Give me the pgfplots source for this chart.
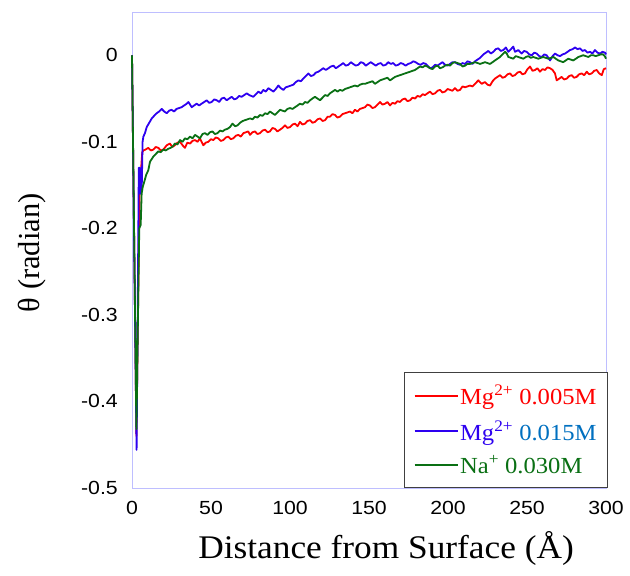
\documentclass[border=0pt]{standalone}
\usepackage{pgfplots}
\pgfplotsset{compat=1.18}
\usepackage{fontspec}
\setmainfont{Liberation Serif}
\newfontfamily\serifw[FakeStretch=1.07]{Liberation Serif}
\newfontfamily\arial[FakeStretch=1.12]{Liberation Sans}
\definecolor{cred}{RGB}{255,0,0}
\definecolor{cblue}{RGB}{45,0,240}
\definecolor{cgreen}{RGB}{10,112,20}
\definecolor{ctext}{RGB}{0,112,192}
\definecolor{lav}{RGB}{190,190,255}
\begin{document}
\begin{tikzpicture}[x=1bp,y=1bp]
\useasboundingbox (0,0) rectangle (630,576);
\begin{axis}[
  at={(132bp,88bp)}, anchor=south west,
  scale only axis, width=474bp, height=476bp,
  xmin=0, xmax=300, ymin=-0.5, ymax=0.05,
  xtick={0,50,100,150,200,250,300},
  xticklabels={0,50,100,150,200,250,300},
  ytick={-0.5,-0.4,-0.3,-0.2,-0.1,0},
  yticklabels={-0.5,-0.4,-0.3,-0.2,-0.1,0},
  major tick length=0pt,
  axis line style={draw=lav, line width=0.8bp},
  ticklabel style={font=\arial\fontsize{19bp}{22bp}\selectfont},
  yticklabel style={anchor=east, inner sep=0pt, xshift=-14bp},
  xticklabel style={anchor=north, inner sep=0pt, yshift=-13bp},
  xlabel={Distance from Surface (Å)},
  ylabel={θ (radian)},
  xlabel style={font=\serifw\fontsize{33bp}{36bp}\selectfont, at={(axis description cs:0.536,0)}, anchor=center, yshift=-60bp},
  ylabel style={font=\fontsize{30.5bp}{34bp}\selectfont, at={(axis description cs:-0.211,0.494)}, anchor=center},
  legend style={at={(1.003,0)}, anchor=south east, draw=black!75, line width=0.8bp, fill=white,
    font=\serifw\fontsize{23bp}{26bp}\selectfont, inner xsep=9bp, inner ysep=10.5bp, row sep=10bp,
    nodes={inner xsep=1.5bp}},
  legend cell align=left,
  legend image code/.code={\draw[#1, line width=2bp] (0bp,0bp) -- (43bp,0bp);},
  clip=false,
]
\addplot[cred, line width=1.8bp, line join=round] coordinates {
(0,0) (2.8,-0.44) (4.8,-0.156) (6.5,-0.112) (7.2,-0.110) (8.5,-0.109) (10.3,-0.107) (12,-0.110) (13.5,-0.109) (15,-0.106) (16.7,-0.107) (18.2,-0.110) (19.8,-0.109) (22,-0.104) (24,-0.102) (25.5,-0.106) (27.1,-0.104) (28.8,-0.101) (30.4,-0.100) (32,-0.104) (33.5,-0.107) (35,-0.101) (36.7,-0.102) (38.3,-0.099) (39.9,-0.098) (41.5,-0.100) (43,-0.096) (45.1,-0.104) (46.7,-0.101) (48.3,-0.100) (50,-0.097) (51.5,-0.098) (53,-0.095) (54.6,-0.096) (56.2,-0.099) (57.8,-0.098) (59.4,-0.095) (60.9,-0.094) (62.5,-0.097) (64.1,-0.096) (65.7,-0.093) (67.3,-0.092) (68.9,-0.094) (70.5,-0.090) (72,-0.089) (73.6,-0.088) (74.7,-0.092) (76.2,-0.089) (77.8,-0.088) (79.4,-0.091) (81,-0.090) (82.6,-0.087) (84.2,-0.086) (85.8,-0.089) (87.3,-0.088) (88.9,-0.084) (90.5,-0.085) (92,-0.088) (93.7,-0.086) (95.2,-0.084) (96.8,-0.081) (98.4,-0.084) (100,-0.083) (101.6,-0.080) (103.2,-0.079) (104.8,-0.082) (106.3,-0.077) (107.9,-0.080) (109.5,-0.079) (111,-0.076) (112.7,-0.075) (114.2,-0.078) (115.8,-0.077) (117.4,-0.074) (119,-0.073) (120.6,-0.076) (122.2,-0.075) (123.8,-0.071) (125.3,-0.071) (126.9,-0.068) (128.5,-0.069) (130,-0.072) (131.6,-0.071) (133.2,-0.068) (134.8,-0.067) (136.4,-0.066) (138,-0.065) (139.5,-0.067) (141.1,-0.063) (142.7,-0.065) (144.3,-0.062) (145.9,-0.061) (147.5,-0.060) (149,-0.057) (150.6,-0.058) (152.2,-0.061) (153.8,-0.060) (155.4,-0.057) (157,-0.054) (158.5,-0.057) (160.1,-0.056) (161.7,-0.054) (163.3,-0.058) (164.9,-0.055) (166.5,-0.056) (168,-0.053) (169.6,-0.054) (171.2,-0.051) (172.8,-0.050) (174.4,-0.053) (176,-0.052) (177.5,-0.049) (179.1,-0.050) (180.7,-0.047) (182.3,-0.048) (183.9,-0.045) (185.4,-0.046) (187,-0.044) (188.6,-0.042) (190.2,-0.045) (191.8,-0.044) (193.4,-0.041) (194.9,-0.040) (196.5,-0.043) (198.1,-0.042) (199.7,-0.039) (201.3,-0.040) (202.8,-0.041) (204.4,-0.038) (206,-0.041) (207.6,-0.040) (209.2,-0.036) (210.8,-0.037) (212.3,-0.036) (213.9,-0.035) (215.5,-0.036) (217.1,-0.033) (219.2,-0.029) (221.3,-0.033) (223.4,-0.031) (225,-0.034) (226.6,-0.035) (228.2,-0.030) (229.7,-0.027) (231.3,-0.025) (232.9,-0.023) (234.5,-0.026) (236.1,-0.025) (237.7,-0.022) (239.2,-0.021) (240.8,-0.024) (242.4,-0.023) (244,-0.020) (245.6,-0.019) (247.1,-0.022) (248.7,-0.021) (250.3,-0.016) (251.9,-0.013) (253.5,-0.018) (255.1,-0.017) (256.6,-0.015) (258.2,-0.019) (259.8,-0.016) (261.4,-0.017) (263,-0.014) (264.6,-0.015) (266.2,-0.017) (267.7,-0.021) (268.8,-0.029) (270.4,-0.027) (271.9,-0.025) (273.5,-0.028) (275.1,-0.027) (276.7,-0.024) (278.3,-0.023) (279.8,-0.026) (281.4,-0.025) (283,-0.022) (284.6,-0.021) (286.2,-0.023) (287.8,-0.019) (289.3,-0.022) (290.9,-0.021) (292.5,-0.018) (294.1,-0.017) (295.7,-0.021) (297.3,-0.023) (298.6,-0.016) (300,-0.015)
};
\addlegendentry{\textcolor{cred}{Mg\textsuperscript{2+} 0.005M}}
\addplot[cblue, line width=1.8bp, line join=round] coordinates {
(0,0) (2.9,-0.456) (3.6,-0.30) (4.3,-0.13) (5.0,-0.13) (5.3,-0.16) (6.2,-0.15) (6.7,-0.10) (7.2,-0.094) (8.2,-0.090) (9.3,-0.083) (10.9,-0.078) (12.5,-0.073) (14,-0.070) (15.6,-0.067) (17.2,-0.065) (18.8,-0.062) (20.4,-0.065) (22,-0.067) (23.5,-0.064) (25,-0.063) (26.6,-0.065) (28.2,-0.062) (29.8,-0.061) (31.4,-0.060) (33,-0.058) (34.6,-0.056) (35.7,-0.054) (37.8,-0.060) (39.3,-0.058) (40.9,-0.056) (42.5,-0.058) (44,-0.056) (45.7,-0.054) (47.3,-0.052) (48.9,-0.055) (50.4,-0.054) (52,-0.051) (53.6,-0.052) (55.2,-0.054) (56.7,-0.050) (58.3,-0.049) (59.9,-0.052) (61.5,-0.050) (63.1,-0.048) (64.7,-0.051) (66.2,-0.050) (67.8,-0.047) (69.4,-0.048) (71,-0.046) (72.6,-0.044) (74.2,-0.046) (76.8,-0.048) (78.4,-0.045) (80,-0.042) (81.6,-0.044) (83.1,-0.040) (84.7,-0.042) (86.3,-0.038) (87.9,-0.040) (89.5,-0.042) (91,-0.039) (92.6,-0.035) (94.2,-0.038) (95.8,-0.040) (97.4,-0.037) (99,-0.036) (100.6,-0.035) (102.1,-0.034) (103.7,-0.031) (105.3,-0.029) (106.9,-0.030) (108.4,-0.027) (110,-0.024) (111.6,-0.021) (113.2,-0.024) (114.8,-0.023) (116.4,-0.020) (118,-0.019) (119.5,-0.017) (121.1,-0.015) (122.7,-0.017) (124.3,-0.015) (125.9,-0.013) (127.5,-0.012) (129,-0.015) (130.6,-0.013) (132.2,-0.011) (133.7,-0.009) (135.3,-0.012) (136.9,-0.011) (138.5,-0.008) (140,-0.010) (141.6,-0.012) (143.2,-0.011) (144.8,-0.008) (146.4,-0.009) (148,-0.012) (149.5,-0.010) (151.1,-0.008) (152.7,-0.010) (154.3,-0.012) (155.8,-0.010) (157.4,-0.009) (159,-0.012) (160.6,-0.011) (162.2,-0.008) (163.8,-0.010) (165.3,-0.009) (166.9,-0.012) (168.5,-0.011) (170.1,-0.009) (171.6,-0.010) (173.2,-0.012) (174.8,-0.010) (176.4,-0.009) (178,-0.007) (179.5,-0.008) (181.1,-0.010) (182.7,-0.011) (184.3,-0.009) (185.9,-0.010) (187.5,-0.013) (188.6,-0.015) (190.2,-0.014) (191.8,-0.011) (193.4,-0.012) (194.9,-0.010) (196.5,-0.008) (198.1,-0.011) (199.7,-0.012) (201.3,-0.010) (202.8,-0.008) (204.4,-0.008) (206,-0.010) (207.6,-0.011) (209.2,-0.009) (210.8,-0.010) (212.3,-0.007) (213.9,-0.008) (215.5,-0.010) (217.1,-0.007) (218.7,-0.005) (220.3,-0.003) (222.4,0.001) (224,0.003) (225.5,0.005) (227.1,0.002) (228.7,0.004) (230.2,0.007) (231.8,0.008) (233.4,0.005) (235,0.006) (236.6,0.009) (238.2,0.004) (239.8,0.007) (241.3,0.010) (242.4,0.004) (244.5,0.006) (246.6,0.002) (248.2,0.005) (249.8,0.004) (251.4,0.001) (253,0.000) (254.6,0.003) (256.1,0.002) (257.7,-0.001) (259.3,-0.002) (260.9,0.001) (262.4,0.000) (264.6,-0.006) (266.2,-0.001) (267.7,0.002) (269.3,0.000) (270.9,-0.001) (272.5,0.001) (274.1,0.002) (275.7,0.004) (277.2,0.006) (278.8,0.007) (280.4,0.009) (282,0.007) (283.5,0.008) (285.1,0.005) (286.7,0.006) (288.3,0.003) (289.9,0.004) (291.4,0.002) (293,0.006) (294.6,0.003) (296.2,0.002) (297.8,0.004) (299.4,0.003) (300,0.001)
};
\addlegendentry{\textcolor{cblue}{Mg\textsuperscript{2+}} \textcolor{ctext}{0.015M}}
\addplot[cgreen, line width=1.8bp, line join=round] coordinates {
(0,0) (2.8,-0.432) (3.8,-0.30) (4.6,-0.20) (5.5,-0.196) (6.1,-0.16) (6.8,-0.152) (7.8,-0.146) (9,-0.138) (10.3,-0.133) (11.4,-0.123) (12.5,-0.120) (13.5,-0.117) (15.1,-0.114) (16.7,-0.111) (18.2,-0.112) (19.8,-0.109) (21.4,-0.110) (23,-0.108) (24.5,-0.107) (26,-0.105) (27.1,-0.102) (28.8,-0.103) (30.4,-0.098) (32,-0.100) (33.5,-0.096) (35,-0.097) (36.7,-0.094) (38.3,-0.096) (39.9,-0.092) (41.5,-0.094) (43,-0.096) (44.6,-0.091) (46.2,-0.090) (47.8,-0.092) (49.3,-0.089) (50.9,-0.088) (52.5,-0.091) (54.1,-0.090) (55.7,-0.087) (57.3,-0.088) (58.8,-0.086) (60.4,-0.085) (62,-0.083) (63.6,-0.079) (65.2,-0.082) (66.8,-0.081) (68.4,-0.078) (70,-0.076) (71.5,-0.075) (73.1,-0.074) (74.7,-0.073) (76.3,-0.074) (77.8,-0.071) (79.4,-0.072) (81,-0.069) (82.6,-0.070) (84.2,-0.067) (85.8,-0.068) (87.3,-0.065) (88.9,-0.067) (90.5,-0.069) (92.1,-0.066) (93.7,-0.063) (95.2,-0.064) (96.8,-0.065) (98.4,-0.062) (100,-0.061) (101.6,-0.062) (103.2,-0.060) (104.8,-0.058) (106.3,-0.056) (107.9,-0.057) (109.5,-0.054) (111.1,-0.055) (112.7,-0.052) (114.2,-0.050) (115.8,-0.048) (117.4,-0.050) (119,-0.052) (120.6,-0.049) (122.2,-0.046) (123.8,-0.047) (125.3,-0.044) (126.9,-0.042) (128.5,-0.040) (130.1,-0.042) (131.6,-0.040) (133.2,-0.041) (134.8,-0.039) (136.4,-0.038) (138,-0.037) (139.5,-0.036) (141.1,-0.035) (142.7,-0.036) (144.3,-0.034) (145.9,-0.033) (147.5,-0.033) (149,-0.032) (150.6,-0.031) (152.2,-0.030) (153.8,-0.033) (155.4,-0.031) (157,-0.029) (158.5,-0.028) (160.1,-0.027) (161.7,-0.026) (163.3,-0.029) (164.9,-0.027) (166.5,-0.025) (168,-0.024) (169.6,-0.023) (171.2,-0.022) (172.8,-0.021) (174.4,-0.020) (176,-0.019) (177.5,-0.018) (179.1,-0.017) (180.7,-0.015) (182.3,-0.013) (183.9,-0.014) (185.4,-0.012) (187,-0.013) (188.6,-0.015) (190.2,-0.016) (191.8,-0.013) (193.4,-0.012) (194.9,-0.015) (196.5,-0.014) (198.1,-0.012) (199.7,-0.011) (201.3,-0.012) (202.8,-0.009) (204.4,-0.008) (206,-0.009) (207.6,-0.010) (209.2,-0.013) (210.8,-0.012) (212.3,-0.010) (213.9,-0.010) (215.5,-0.009) (217.1,-0.008) (218.7,-0.009) (220.3,-0.010) (221.9,-0.009) (223.4,-0.008) (225,-0.009) (226.6,-0.010) (228.2,-0.008) (229.7,-0.006) (231.3,-0.004) (232.9,-0.002) (234.5,0.001) (236.1,0.004) (237.2,0.002) (238.2,-0.002) (239.8,-0.003) (241.3,-0.004) (242.9,-0.001) (244.5,-0.002) (246.1,-0.003) (247.7,-0.004) (249.3,-0.002) (250.8,-0.001) (252.4,-0.003) (254,-0.002) (255.6,-0.003) (257.2,-0.004) (258.7,-0.003) (260.3,-0.002) (261.9,-0.003) (263.5,-0.004) (265.1,-0.003) (266.7,-0.002) (268.2,-0.004) (269.8,-0.006) (271.4,-0.007) (272.9,-0.008) (274.5,-0.006) (276.1,-0.004) (277.7,-0.005) (279.3,-0.006) (280.9,-0.004) (282.5,-0.002) (284,-0.001) (285.6,0.000) (287.2,-0.001) (288.8,-0.002) (290.4,0.000) (291.9,0.000) (293.5,-0.001) (295.1,0.000) (296.7,0.001) (298.2,0.001) (299.2,-0.001) (300,-0.004)
};
\addlegendentry{\textcolor{cgreen}{Na\textsuperscript{+} 0.030M}}
\end{axis}
\end{tikzpicture}
\end{document}
